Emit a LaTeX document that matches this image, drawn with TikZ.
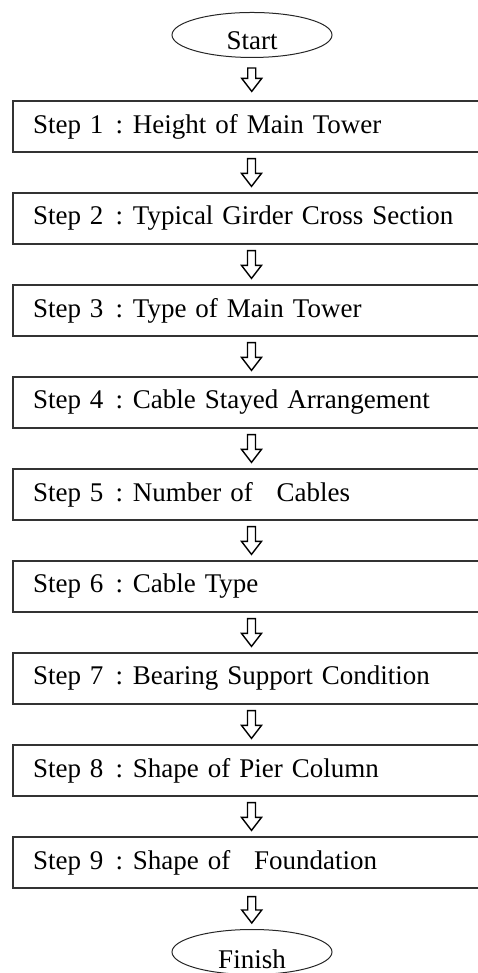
\documentclass[tikz,border=0pt]{standalone}
\usepackage{fontspec}
\setmainfont{Liberation Serif}
\usetikzlibrary{calc,shapes.geometric}
\newcommand\stepcolon{\hspace{0.45em}:\hspace{0.36em}}
\newcommand\hollowarrow[4]{%
  \path let \p1=(#1), \p2=(#2) in
    \pgfextra{\pgfmathsetmacro\cx{0.5*(\x1+\x2)}\pgfmathsetmacro\yt{\y1-#3}\pgfmathsetmacro\yb{\y2+#4}}
    [arrowshape] (\cx pt-4pt,\yt pt) -- (\cx pt+4pt,\yt pt) -- (\cx pt+4pt,\yb pt+13pt)
    -- (\cx pt+10pt,\yb pt+13pt) -- (\cx pt,\yb pt) -- (\cx pt-10pt,\yb pt+13pt)
    -- (\cx pt-4pt,\yb pt+13pt) -- cycle;}
\tikzset{
  x=1pt,y=1pt,
  stepbox/.style={draw=black!80, line width=1.2pt, rectangle, minimum height=51pt,
    text width=437pt, align=left, inner xsep=20pt, inner ysep=0pt, font=\fontsize{27}{30}\selectfont},
  term/.style={draw=black!85, line width=1pt, ellipse, minimum width=160pt, minimum height=45pt,
    inner sep=0pt},
  termtext/.style={font=\fontsize{27}{30}\selectfont, inner sep=0pt, anchor=base},
  arrowshape/.style={draw=black, line width=1.4pt, fill=white, line join=miter},
}
\begin{document}
\begin{tikzpicture}
\useasboundingbox (0,0) rectangle (478,973);
\clip (0,0) rectangle (478,973);
% centres: y_canvas = 973 - y_px
\node[term] (start) at (252,938) {};
\node[termtext] (starttxt) at (252,923) {Start};
\node[stepbox] (s1) at (251.5,846.5) {Step 1\stepcolon Height of Main Tower};
\node[stepbox] (s2) at (251.5,754.5) {Step 2\stepcolon Typical Girder Cross Section};
\node[stepbox] (s3) at (251.5,662.5) {Step 3\stepcolon Type of Main Tower};
\node[stepbox] (s4) at (251.5,570.5) {Step 4\stepcolon Cable Stayed Arrangement};
\node[stepbox] (s5) at (251.5,478.5) {Step 5\stepcolon Number of\hspace{0.55em} Cables};
\node[stepbox] (s6) at (251.5,386.5) {Step 6\stepcolon Cable Type};
\node[stepbox] (s7) at (251.5,294.5) {Step 7\stepcolon Bearing Support Condition};
\node[stepbox] (s8) at (251.5,202.5) {Step 8\stepcolon Shape of Pier Column};
\node[stepbox] (s9) at (251.5,110.5) {Step 9\stepcolon Shape of\hspace{0.55em} Foundation};
\node[term] (finish) at (252,21) {};
\node[termtext] (finishtxt) at (252,4.5) {Finish};
\hollowarrow{start.south}{s1.north}{10}{9}
\hollowarrow{s1.south}{s2.north}{6}{6}
\hollowarrow{s2.south}{s3.north}{6}{6}
\hollowarrow{s3.south}{s4.north}{6}{6}
\hollowarrow{s4.south}{s5.north}{6}{6}
\hollowarrow{s5.south}{s6.north}{6}{6}
\hollowarrow{s6.south}{s7.north}{6}{6}
\hollowarrow{s7.south}{s8.north}{6}{6}
\hollowarrow{s8.south}{s9.north}{6}{6}
\hollowarrow{s9.south}{finish.north}{8}{6}
\end{tikzpicture}
\end{document}
